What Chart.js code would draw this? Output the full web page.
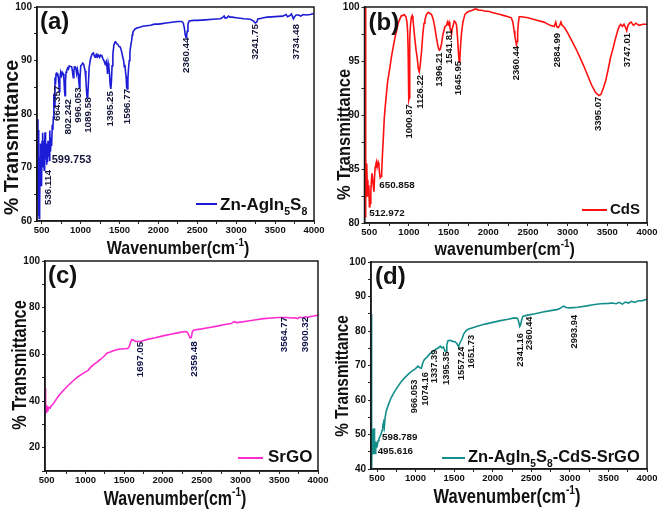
<!DOCTYPE html>
<html><head><meta charset="utf-8">
<title>FTIR spectra</title>
<script src="https://cdn.jsdelivr.net/npm/chart.js@4.4.1/dist/chart.umd.min.js"></script>
<style>
html,body{margin:0;padding:0;background:#fff;}
#wrap{position:relative;width:661px;height:510px;overflow:hidden;background:#fff;}
#wrap canvas{position:absolute;}
#ca{left:0;top:0;width:332px;height:262px;}
#cb{left:318px;top:0;width:343px;height:262px;}
#cc{left:0;top:252px;width:332px;height:258px;}
#cd{left:318px;top:252px;width:343px;height:258px;}
#topLabA{position:absolute;left:0;width:32px;text-align:right;font:bold 10px "Liberation Sans", Arial, sans-serif;line-height:12px;color:#111;z-index:10;}
</style></head><body><div id="wrap">
<canvas id="cc" width="332" height="258"></canvas>
<canvas id="cd" width="343" height="258"></canvas>
<canvas id="cb" width="343" height="262"></canvas>
<canvas id="ca" width="332" height="262"></canvas>
<div id="topLabA"></div>
</div>
<script>
// ---------- DATA ----------
const waveA = [448,452,456,460,464,468,472,476,480,484,488,492,496,500,505,510,515,520,526,532,538,543,550,556,562,568,575,582,588,595,601,607,614,620,628,636,644,650,655,658,664,671,678,685,693,700,707,714,722,727,733,744,755,765,778,786,793,800,806,813,821,835,845,855,870,886,895,902,907,914,922,929,940,950,960,970,978,985,992,1002,1015,1028,1040,1050,1058,1068,1078,1084,1092,1100,1110,1122,1135,1152,1165,1175,1187,1198,1208,1220,1232,1245,1258,1273,1285,1300,1316,1330,1340,1346,1355,1363,1372,1380,1389,1396,1405,1415,1428,1440,1450,1462,1478,1495,1510,1525,1540,1553,1562,1570,1578,1585,1592,1600,1608,1616,1626,1634,1645,1656,1665,1672,1680,1700,1730,1760,1800,1850,1900,1950,2000,2050,2100,2150,2200,2250,2300,2320,2335,2345,2355,2363,2372,2380,2395,2450,2500,2600,2700,2800,2830,2845,2860,2880,2900,2920,2950,3000,3100,3180,3220,3245,3265,3280,3300,3350,3400,3500,3600,3640,3660,3690,3710,3735,3750,3770,3800,3830,3860,3900,3950,4000];
const transA = [79,64,77,61,74,60.5,70,63,72,67,74.5,68,73,66.5,75,70,76.5,71,75,69.5,74,76.6,71.5,74.5,70.5,73.5,71,75,72,73.5,71.2,76.9,73,75.5,74,78,77,79.4,82,83.8,81.5,86.8,85.5,87.5,87.8,87.2,87.6,86.8,85.5,84.2,86.5,87.8,87.2,87.8,87.5,86.5,84.5,83.4,86,87.8,88.1,88.6,88.4,89,88.9,88.8,88,87.2,86.8,88,88.8,88.8,88.5,87.5,88.3,87.5,86,85,86.5,89,89.2,89.5,89.3,88.6,88.1,86.5,84,83.1,83.3,85.5,88.6,89.9,90.7,91.3,91.4,90.9,90.6,91.1,91.2,90.7,91,90.6,91,90.9,90.4,90,89.3,89.8,88.8,87.5,89.5,88.8,87.5,85.5,84.7,86,89,91.2,92.8,93.4,93.5,93.2,93,92.6,92.5,91.8,90.8,90,88.8,89.2,87.8,87,85,84.7,86.5,88.5,90,91.5,92.8,93.7,94.8,95.3,95.5,95.9,96.1,96.2,96.4,96.5,96.6,96.8,96.8,96.9,97,97.1,97.2,97.3,97.3,97,96,94.8,94.3,94.8,95.5,96.8,97.4,97.5,97.5,97.6,97.7,97.8,98.1,98.3,97.9,98,98.3,98.1,98.1,98,97.8,97.7,97.4,97,97.2,97.8,97.8,98,98.1,98.2,98.3,98.6,98.2,98.4,98.7,97.8,98.2,98.5,98.5,98.3,98.6,98.5,98.6,98.8];

const waveB = [448,452,458,463,468,475,482,488,495,502,508,513,520,528,535,542,550,559,567,575,584,592,600,613,622,630,638,648,656,664,676,690,709,730,760,780,802,822,844,865,886,905,920,940,962,975,983,990,995,1000,1004,1008,1012,1020,1030,1041,1050,1062,1075,1090,1104,1118,1130,1142,1159,1175,1190,1201,1220,1243,1265,1285,1305,1327,1345,1360,1375,1385,1395,1411,1425,1440,1455,1474,1485,1495,1505,1516,1528,1537,1545,1558,1570,1587,1600,1612,1622,1633,1642,1652,1663,1680,1705,1730,1760,1800,1830,1850,1880,1920,1960,2000,2050,2100,2150,2200,2250,2290,2310,2325,2335,2345,2355,2362,2370,2380,2390,2420,2500,2600,2700,2780,2830,2850,2862,2880,2900,2915,2930,2960,3000,3050,3100,3150,3200,3250,3300,3350,3395,3420,3450,3480,3510,3540,3570,3600,3630,3650,3670,3690,3710,3730,3745,3760,3780,3800,3830,3860,3900,3950,4000];
const transB = [100,80.5,86,82.5,85.5,83.5,84,82.5,83.5,81.5,82.5,81.8,83,84,84.6,84.6,83.5,82.9,84.3,85.2,85.5,85.7,85.2,85.6,85.3,84.6,84.2,84.3,84.6,86,87.7,89.8,91.4,93,94.4,95.4,96.3,97.1,97.8,98.5,98.9,99.2,99.2,99.3,99.1,98.6,97.8,96,93.5,91.4,91.6,94.5,97,98.4,99,99.2,98.9,98,97,96,95.3,94.3,94,94.6,95.9,97.5,98.5,98.8,99.3,99.5,99.4,99.3,98.9,98.1,97.2,96.6,96.1,96,96.1,96.6,97.3,97.8,98.2,98.3,98.6,98.4,98.6,98.1,97.8,97.5,98,98.3,98.7,98.6,98.3,97.2,96,94.9,95.3,96.6,97.6,98.6,99.3,99.5,99.6,99.7,99.8,99.8,99.7,99.7,99.6,99.6,99.5,99.4,99.3,99.2,99.1,99,98.6,97.8,97.3,96.9,96.5,96.8,97.6,98.6,99.1,99.1,99,98.8,98.6,98.3,98.2,98.6,98.2,98.1,98.3,98.6,98.3,98.1,97.6,96.9,96.2,95.4,94.6,93.7,92.8,92.1,91.8,91.9,92.5,93.2,94.2,95.3,96.1,97,97.8,98.2,98.4,98.2,98.4,98.1,97.8,98.3,98.5,98.6,98.3,98.5,98.3,98.4,98.4];

const waveC = [478,482,486,489,492,496,500,506,512,520,530,545,560,580,600,625,650,675,700,750,800,850,900,950,1000,1030,1060,1100,1150,1200,1250,1280,1320,1360,1400,1450,1500,1545,1565,1585,1600,1620,1650,1680,1700,1750,1800,1900,2000,2100,2200,2280,2310,2330,2350,2365,2380,2400,2500,2600,2700,2800,2880,2905,2925,2950,3000,3100,3200,3300,3400,3500,3600,3650,3700,3740,3760,3800,3840,3870,3900,3950,4000];
const transC = [45.5,41,36,34.5,36.5,35,36.8,35.6,37,36.4,37.3,37,38,38.6,39.5,40.8,42,43,44,45.8,47.4,48.9,50.3,51.4,52.5,53,54.2,55.5,56.7,58,59.5,60.6,61,61.5,62,62.3,62.4,62.5,63.3,65.5,66.3,66,65.5,65.6,65.4,65.9,66.4,67.1,67.9,68.6,69.3,69.8,69.6,68.5,67,67.2,69.8,70.4,70.9,71.5,72.1,72.8,73.2,73.8,74,73.6,73.8,74.3,74.8,75.3,75.6,75.8,75.8,75.6,75.7,75.3,75.9,75.7,76.1,75.8,76.2,76.4,76.8];

const waveD = [424,427,430,433,437,441,445,449,453,457,461,465,470,475,480,486,492,498,505,515,525,540,555,565,575,585,595,605,620,650,680,710,760,820,870,920,966,1000,1030,1050,1074,1090,1110,1150,1190,1230,1270,1300,1320,1340,1360,1380,1395,1405,1420,1450,1480,1510,1535,1550,1560,1575,1600,1625,1650,1680,1720,1800,1900,2000,2100,2200,2280,2320,2335,2350,2362,2375,2390,2450,2550,2650,2750,2830,2870,2900,2920,2950,3000,3100,3200,3300,3400,3500,3550,3600,3640,3680,3720,3760,3800,3840,3880,3940,4000];
const transD = [60,85,52,40,50,45.5,51.5,44.5,50,46,51.8,45,48.5,44.5,48,45.5,47.8,46.2,47,48.2,48.8,49.5,50.3,51.2,52.5,53.5,52.2,55,56.8,58.8,60.5,61.8,63.6,65.5,66.7,67.8,68.6,69.1,69.8,69.4,69.2,70.5,71.6,72.5,73.5,74.2,74.8,75.2,75.6,75.1,75.4,74.2,74.3,76,77.2,77.3,77,76.9,76.4,75.7,75.6,76.6,77.6,79.2,80,80.5,80.8,81.4,82,82.5,83,83.4,83.8,83.7,82.8,81.3,81.8,83.2,84.2,84.6,85,85.5,85.9,86.2,86.5,87,87.2,86.8,86.7,86.9,87.2,87.6,87.9,88,88.1,87.9,88.3,87.8,88.4,88.1,88.6,88.3,88.7,88.8,89.2];

// peak labels (text, wavenumber, transmittance at label's upper end / left-middle)
const vLabA = ['536.114','664.357','802.242','996.053','1089.58','1395.25','1596.77','2360.44','3241.75','3734.48'];
const vWA = [590,701,843,977,1101,1382,1595,2355,3248,3776];
const vTA = [69.5,85.3,82.8,85,83.1,84.3,84.7,94.3,96.8,96.8];
const hLabA = ['599.753']; const hWA = [629]; const hTA = [71.4];

const vLabB = ['1000.87','1126.22','1396.21','1541.81','1645.95','2360.44','2884.99','3395.07','3747.01'];
const vWB = [1003,1146,1389,1515,1619,2353,2876,3392,3756];
const vTB = [91.0,93.7,95.8,97.9,95.0,96.4,97.6,91.7,97.6];
const hLabB = ['512.972','650.858']; const hWB = [500,626]; const hTB = [80.9,83.5];

const vLabC = ['1697.05','2359.48','3564.77','3900.32'];
const vWC = [1702,2398,3571,3841];
const vTC = [65.4,65.6,76.1,76.1];
const hLabC = []; const hWC = []; const hTC = [];

const vLabD = ['966.053','1074.16','1337.39','1395.35','1557.24','1651.73','2341.16','2360.44','2993.94'];
const vWD = [987,1134,1245,1397,1600,1729,2354,2474,3056];
const vTD = [65.9,68.1,74.6,74.1,75.5,78.9,79.4,84.2,84.7];
const hLabD = ['598.789','495.616']; const hWD = [565,508]; const hTD = [49.2,45.1];

// axis ticks (minor + major) and which ones carry labels
const xTickVals = [500,750,1000,1250,1500,1750,2000,2250,2500,2750,3000,3250,3500,3750,4000];
const xTickLabels = [500,1000,1500,2000,2500,3000,3500,4000];
const yTicksA = [60,65,70,75,80,85,90,95,100]; const yLabA = [60,70,80,90,100];
const yTicksB = [80,82.5,85,87.5,90,92.5,95,97.5,100]; const yLabB = [80,85,90,95,100];
const yTicksC = [10,20,30,40,50,60,70,80,90,100]; const yLabC = [20,40,60,80,100];
const yTicksD = [40,45,50,55,60,65,70,75,80,85,90,95,100]; const yLabD = [40,50,60,70,80,90,100];

// ---------- DRAWING ----------
const FAM = '"Liberation Sans", Arial, Helvetica, sans-serif';
function richW(ctx, segs, size) {
  let w = 0;
  for (const [t, k] of segs) { ctx.font = `bold ${k ? size*0.62 : size}px ${FAM}`; w += ctx.measureText(t).width; }
  return w;
}
function drawRich(ctx, segs, x, y, size) {
  let cx = x;
  ctx.textAlign = 'left'; ctx.textBaseline = 'alphabetic';
  for (const [t, k] of segs) {
    const s = k ? size*0.62 : size;
    ctx.font = `bold ${s}px ${FAM}`;
    const dy = k === 1 ? size*0.32 : (k === 2 ? -size*0.45 : 0);
    ctx.fillText(t, cx, y + dy);
    cx += ctx.measureText(t).width;
  }
}
const decor = {
  id: 'decor',
  afterDatasetsDraw(chart, args, o) {
    const {ctx, chartArea: a, scales: {x, y}} = chart;
    ctx.save();
    ctx.lineWidth = 1.5; ctx.strokeStyle = '#1a1a1a';
    ctx.strokeRect(a.left, a.top, a.right - a.left, a.bottom - a.top);
    // panel letter
    ctx.fillStyle = '#111'; ctx.textAlign = 'left'; ctx.textBaseline = 'alphabetic';
    ctx.font = `bold 24px ${FAM}`;
    ctx.fillText(o.letter, a.left + o.letterOff[0], a.top + o.letterOff[1]);
    // y title
    ctx.save();
    ctx.translate(a.left + o.yt.dx, (a.top + a.bottom) / 2 + o.yt.dy);
    ctx.rotate(-Math.PI / 2);
    ctx.scale(1, o.yt.sy);
    ctx.font = `bold ${o.yt.size}px ${FAM}`;
    ctx.textAlign = 'center'; ctx.textBaseline = 'alphabetic';
    ctx.fillText('% Transmittance', 0, o.yt.size * 0.36);
    ctx.restore();
    // x title
    ctx.save();
    const xw = richW(ctx, o.xt.segs, o.xt.size);
    ctx.translate((a.left + a.right) / 2 + o.xt.dx, a.bottom + o.xt.dy);
    ctx.scale(1, o.xt.sy);
    drawRich(ctx, o.xt.segs, -xw / 2, 0, o.xt.size);
    ctx.restore();
    // peak labels
    ctx.fillStyle = o.pk.color;
    ctx.font = `${o.pk.weight} ${o.pk.size}px ${FAM}`;
    o.pk.vl.forEach((t, i) => {
      const px = x.getPixelForValue(o.pk.vw[i]), py = y.getPixelForValue(o.pk.vt[i]);
      ctx.save(); ctx.translate(px, py); ctx.rotate(-Math.PI / 2);
      ctx.textAlign = 'right'; ctx.textBaseline = 'middle';
      ctx.fillText(t, 0, 0); ctx.restore();
    });
    ctx.font = `${o.pk.weight} ${o.pk.hsize}px ${FAM}`;
    o.pk.hl.forEach((t, i) => {
      const px = x.getPixelForValue(o.pk.hw[i]), py = y.getPixelForValue(o.pk.ht[i]);
      ctx.textAlign = 'left'; ctx.textBaseline = 'middle';
      ctx.fillText(t, px, py);
    });
    // legend
    ctx.strokeStyle = o.lg.color; ctx.lineWidth = 2;
    ctx.beginPath();
    ctx.moveTo(a.right + o.lg.x1, a.bottom + o.lg.ly);
    ctx.lineTo(a.right + o.lg.x2, a.bottom + o.lg.ly);
    ctx.stroke();
    ctx.fillStyle = '#111';
    drawRich(ctx, o.lg.segs, a.right + o.lg.tx, a.bottom + o.lg.ty, o.lg.size);
    ctx.restore();
  }
};

function pts(xs, ys) { return xs.map((v, i) => ({x: v, y: ys[i]})); }

// g: target plot rectangle in page pixels (L,R,T,B) and the canvas box (ox,oy,w,h)
function makeChart(id, g, xs, ys, color, deco) {
  const yW = 30, xH = 20;
  const shown = g.yl.filter(v => !(g.skip || []).includes(v));
  return new Chart(document.getElementById(id), {
    type: 'line',
    data: { datasets: [{ data: pts(xs, ys), borderColor: color, borderWidth: 1.6, pointRadius: 0, tension: 0, fill: false }] },
    plugins: [decor],
    options: {
      responsive: false, animation: false, events: [], devicePixelRatio: 1,
      layout: { padding: { left: g.L - g.ox - yW, right: g.ox + g.w - g.R, top: g.T - g.oy, bottom: g.oy + g.h - g.B - xH } },
      plugins: { legend: { display: false }, tooltip: { enabled: false }, decor: deco },
      scales: {
        x: {
          type: 'linear', min: g.xmin, max: 4000, bounds: 'data',
          afterFit: s => { s.height = xH; },
          afterBuildTicks: s => { s.ticks = xTickVals.map(v => ({value: v})); },
          grid: { display: true, drawOnChartArea: false, drawTicks: true, tickLength: 3, color: '#222' },
          border: { display: true, color: '#1a1a1a', width: 1.5 },
          ticks: { autoSkip: false, maxRotation: 0, minRotation: 0, padding: 2, color: '#111',
            font: { family: FAM, size: 9.5, weight: 'bold', lineHeight: 1 },
            callback: v => (xTickLabels.includes(v) ? String(v) : '') }
        },
        y: {
          min: g.ymin, max: g.ymax, bounds: 'data',
          afterFit: s => { s.width = yW; },
          afterBuildTicks: s => { s.ticks = g.yt.map(v => ({value: v})); },
          grid: { display: true, drawOnChartArea: false, drawTicks: true, tickLength: 3, color: '#222' },
          border: { display: true, color: '#1a1a1a', width: 1.5 },
          ticks: { autoSkip: false, padding: 2, color: '#111',
            font: { family: FAM, size: 10, weight: 'bold', lineHeight: 1 },
            callback: v => (shown.includes(v) ? String(v) : '') }
        }
      }
    }
  });
}

const supTitle = [['Wavenumber(cm', 0], ['-1', 2], [')', 0]];
const supTitleLower = [['wavenumber(cm', 0], ['-1', 2], [')', 0]];

makeChart('cb', {ox: 318, oy: 0, w: 343, h: 262, L: 364.5, R: 647, T: 7, B: 223, xmin: 440, ymin: 80, ymax: 100, yt: yTicksB, yl: yLabB},
  waveB, transB, '#ff1010', {
    letter: '(b)', letterOff: [4, 23],
    yt: {dx: -21, dy: 19.5, size: 16.5, sy: 1.1},
    xt: {segs: supTitleLower, size: 16, sy: 1.12, dx: -1, dy: 32},
    pk: {color: '#111', weight: 'bold', size: 9.5, hsize: 9.8, vl: vLabB, vw: vWB, vt: vTB, hl: hLabB, hw: hWB, ht: hTB},
    lg: {color: '#ff1010', x1: -65, x2: -40, ly: -13, tx: -37, ty: -9, size: 15,
      segs: [['CdS', 0]]}
  });

makeChart('cc', {ox: 0, oy: 252, w: 332, h: 258, L: 45, R: 318, T: 261, B: 471, xmin: 478, ymin: 10, ymax: 100, yt: yTicksC, yl: yLabC},
  waveC, transC, '#ff2bd0', {
    letter: '(c)', letterOff: [3, 22],
    yt: {dx: -26, dy: -1, size: 16.3, sy: 1.25},
    xt: {segs: supTitle, size: 16, sy: 1.3, dx: -6.5, dy: 34},
    pk: {color: '#10104a', weight: 'bold', size: 9.8, hsize: 10, vl: vLabC, vw: vWC, vt: vTC, hl: hLabC, hw: hWC, ht: hTC},
    lg: {color: '#ff2bd0', x1: -80, x2: -55, ly: -13, tx: -50, ty: -9, size: 17,
      segs: [['SrGO', 0]]}
  });

makeChart('cd', {ox: 318, oy: 252, w: 343, h: 258, L: 371, R: 647, T: 262, B: 469, xmin: 422, ymin: 40, ymax: 100, yt: yTicksD, yl: yLabD},
  waveD, transD, '#138e8a', {
    letter: '(d)', letterOff: [4, 22],
    yt: {dx: -29, dy: 10.5, size: 15.3, sy: 1.18},
    xt: {segs: supTitle, size: 16.5, sy: 1.22, dx: -2, dy: 34},
    pk: {color: '#111', weight: 'bold', size: 9.3, hsize: 9.8, vl: vLabD, vw: vWD, vt: vTD, hl: hLabD, hw: hWD, ht: hTD},
    lg: {color: '#138e8a', x1: -205, x2: -182, ly: -11, tx: -179, ty: -7, size: 16.5,
      segs: [['Zn-AgIn', 0], ['5', 1], ['S', 0], ['8', 1], ['-CdS-SrGO', 0]]}
  });

// panel (a): its top tick label is placed as page text at the scale's own pixel for that value
const topA = yLabA[yLabA.length - 1];
const chA = makeChart('ca', {ox: 0, oy: 0, w: 332, h: 262, L: 37, R: 314, T: 7, B: 221, xmin: 440, ymin: 60, ymax: 100, yt: yTicksA, yl: yLabA, skip: [topA]},
  waveA, transA, '#1c1cd6', {
    letter: '(a)', letterOff: [3, 22],
    yt: {dx: -26, dy: 23.5, size: 19.5, sy: 1.0},
    xt: {segs: supTitle, size: 16, sy: 1.12, dx: 2.5, dy: 33},
    pk: {color: '#15153a', weight: 'bold', size: 9.8, hsize: 11, vl: vLabA, vw: vWA, vt: vTA, hl: hLabA, hw: hWA, ht: hTA},
    lg: {color: '#1c1cd6', x1: -118, x2: -97, ly: -17, tx: -94, ty: -11, size: 17,
      segs: [['Zn-AgIn', 0], ['5', 1], ['S', 0], ['8', 1]]}
  });
const lab = document.getElementById('topLabA');
lab.textContent = String(topA);
lab.style.top = (chA.scales.y.getPixelForValue(topA) - 6) + 'px';
lab.style.width = (chA.chartArea.left - 5) + 'px';
</script>
</body></html>
